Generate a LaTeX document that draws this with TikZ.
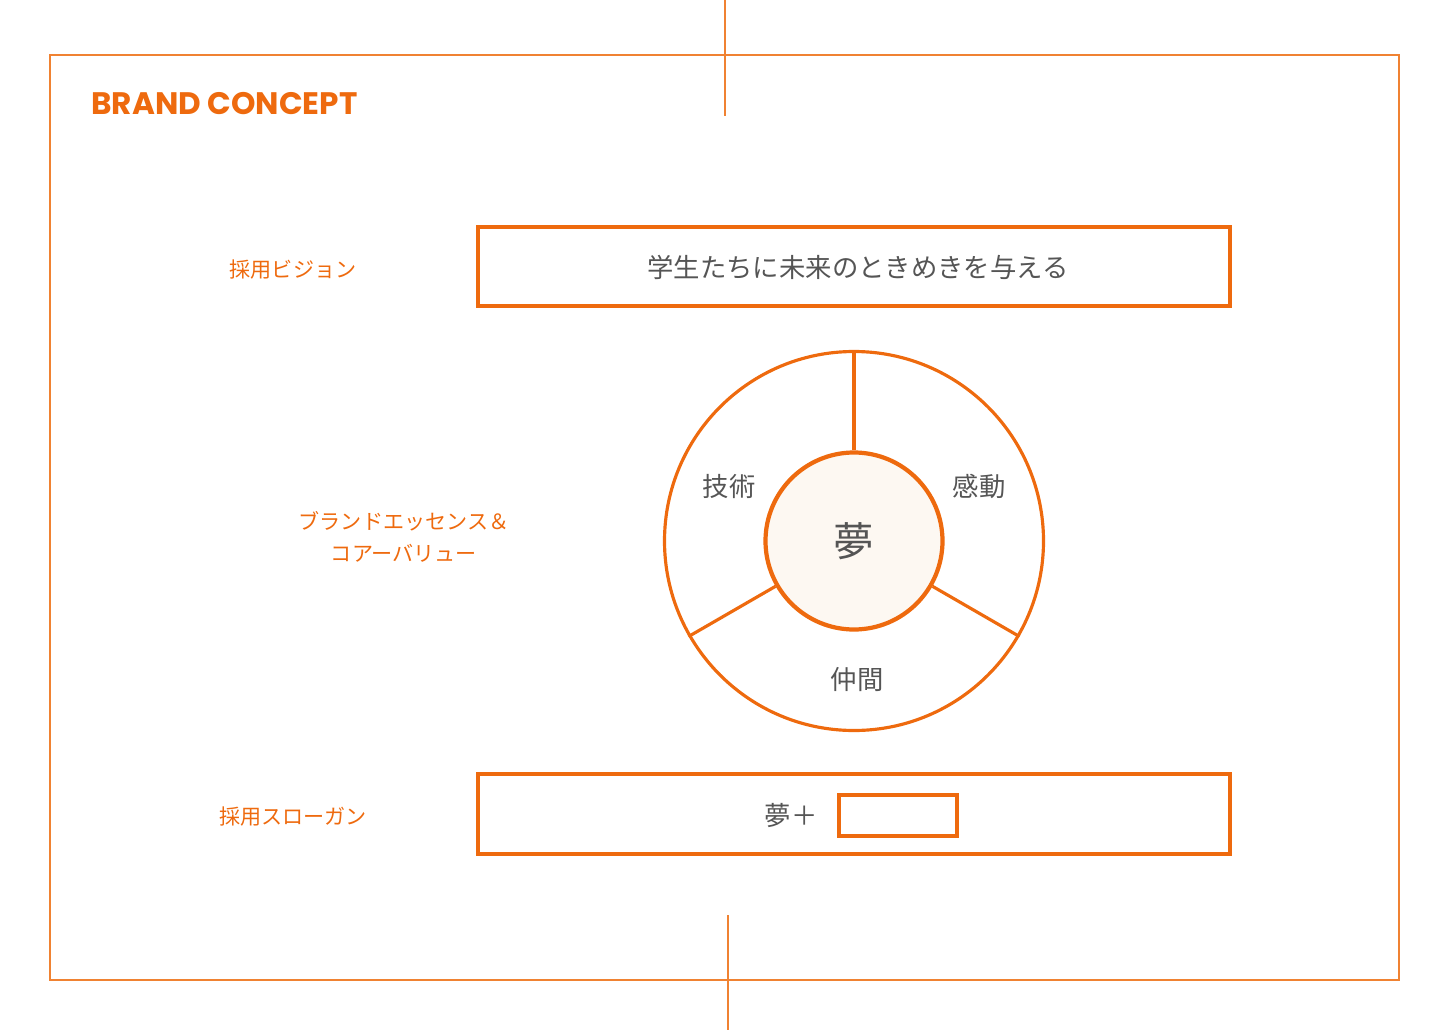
\documentclass[tikz,border=0pt]{standalone}
\usepackage{fontspec}
\usepackage{xcolor}
\usepackage{tikz}
\usetikzlibrary{
calc,
positioning
}
\newfontfamily\jpfont{Noto Sans CJK JP}
\newfontfamily\brandfont{Poppins}
\definecolor{brandorange}{HTML}{EE6A0E}
\definecolor{frameorange}{HTML}{F08232}
\definecolor{inkgray}{HTML}{555555}
\definecolor{cream}{HTML}{FDF8F2}
\tikzset{
labeltext/.style={text=brandorange, font=\jpfont\fontsize{12pt}{18pt}\selectfont, align=center},
bodytext/.style={text=inkgray, font=\jpfont\fontsize{15pt}{18pt}\selectfont},
conceptbox/.style={draw=brandorange, line width=1.9pt, inner sep=0pt},
spoke/.style={draw=brandorange, line width=1.8pt},
guide/.style={draw=frameorange, line width=1pt}
}

\begin{document}
\begin{tikzpicture}[x=0.02cm, y=-0.02cm]

\useasboundingbox (0,0) rectangle (1450,1034);

% frame and guides
\draw[guide] (50,55) rectangle (1399,980);
\coordinate (topA) at (725,0);
\coordinate (topB) at (725,116);
\coordinate (botA) at (728,915);
\coordinate (botB) at (728,1030);
\draw[guide] (topA) -- (topB);
\draw[guide] (botA) -- (botB);

\node[
anchor=west,
text=brandorange,
font=\brandfont\bfseries\fontsize{17.7pt}{20pt}\selectfont,
inner sep=0pt
]
(title) at (91,104)
{
BRAND CONCEPT
};

% vision
\node[
conceptbox,
minimum width=752*0.02cm,
minimum height=79*0.02cm
]
(vision) at (854,266.5)
{};
\node[bodytext] (visiontext) at (858,267) {学生たちに未来のときめきを与える};
\node[labeltext] (visionlabel) at (293,270) {採用ビジョン};

% essence
\node[
circle,
draw=brandorange,
line width=1.8pt,
inner sep=0pt,
minimum size=379*0.02cm
]
(ring) at (854,541)
{};
\node[
circle,
draw=brandorange,
fill=cream,
line width=2.4pt,
inner sep=0pt,
minimum size=177*0.02cm,
text=inkgray,
font=\jpfont\fontsize{23pt}{26pt}\selectfont
]
(yume) at (854,541)
{夢};
\draw[spoke] (yume.90) -- (ring.90);
\draw[spoke] (yume.210) -- (ring.210);
\draw[spoke] (yume.330) -- (ring.330);
\node[bodytext] (gijutsu) at (729,486) {技術};
\node[bodytext] (kandou) at (979,486) {感動};
\node[bodytext] (nakama) at (857,680) {仲間};
\node[labeltext] (essencelabel) at (404,537) {ブランドエッセンス＆\\コアーバリュー};

% slogan
\node[
conceptbox,
minimum width=752*0.02cm,
minimum height=80*0.02cm
]
(slogan) at (854,814)
{};
\node[bodytext] (slogantext) at (791,816) {夢＋};
\node[
draw=brandorange,
line width=2.4pt,
minimum width=118*0.02cm,
minimum height=41*0.02cm,
inner sep=0pt
]
(blank) at (898,815.5)
{};
\node[labeltext] (sloganlabel) at (293,817) {採用スローガン};

\end{tikzpicture}
\end{document}
